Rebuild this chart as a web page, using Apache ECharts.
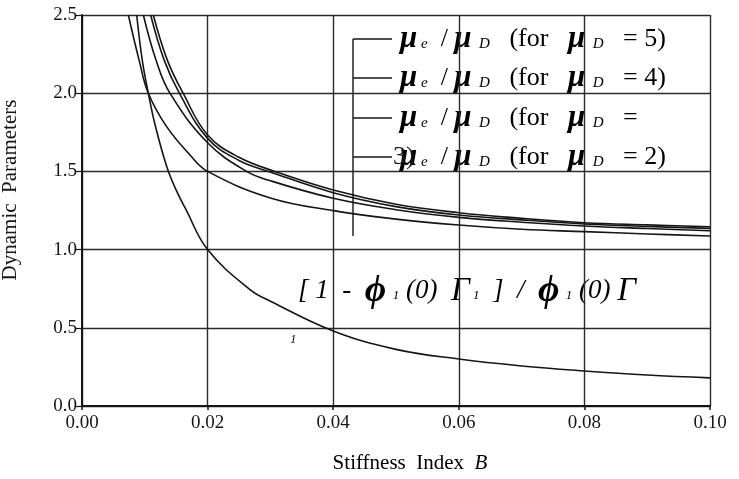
<!DOCTYPE html>
<html>
<head>
<meta charset="utf-8">
<script src="https://cdn.jsdelivr.net/npm/echarts@6/dist/echarts.min.js"></script>
<style>
  html, body { margin: 0; padding: 0; background: #fff; }
  #chart { width: 739px; height: 479px; }
</style>
</head>
<body>
<div id="chart"></div>
<script>
// values (x = stiffness index B)
const xMu5 = [0.01135, 0.0136, 0.0161, 0.02, 0.025, 0.0307, 0.04, 0.05, 0.06, 0.07, 0.08, 0.09, 0.10]
const yMu5 = [2.5, 2.21, 2.0, 1.733, 1.59, 1.5, 1.381, 1.29, 1.236, 1.2, 1.172, 1.158, 1.146]

const xMu4 = [0.01093, 0.0131, 0.0155, 0.02, 0.025, 0.0297, 0.04, 0.05, 0.06, 0.07, 0.08, 0.09, 0.10]
const yMu4 = [2.5, 2.21, 2.0, 1.711, 1.57, 1.5, 1.364, 1.275, 1.221, 1.19, 1.164, 1.148, 1.136]

const xMu3 = [0.00977, 0.0118, 0.014, 0.02, 0.0262, 0.03, 0.04, 0.05, 0.06, 0.07, 0.08, 0.09, 0.10]
const yMu3 = [2.5, 2.21, 2.0, 1.683, 1.5, 1.44, 1.328, 1.255, 1.206, 1.175, 1.151, 1.135, 1.121]

const xMu2 = [0.00738, 0.0091, 0.01056, 0.01348, 0.0172, 0.02, 0.03, 0.04, 0.05, 0.06, 0.07, 0.08, 0.09, 0.10]
const yMu2 = [2.5, 2.21, 2.0, 1.786, 1.605, 1.5, 1.33, 1.249, 1.195, 1.157, 1.13, 1.115, 1.1, 1.087]

const xPhi = [0.00871, 0.0096, 0.01056, 0.01162, 0.0135, 0.015, 0.0165, 0.02, 0.0268, 0.03, 0.04, 0.05, 0.06, 0.07, 0.08, 0.09, 0.10]
const yPhi = [2.5, 2.21, 2.0, 1.8, 1.53, 1.38, 1.26, 1.0, 0.742, 0.67, 0.48, 0.362, 0.3, 0.256, 0.224, 0.198, 0.18]

// legend entries (mu_D values), top to bottom
const legendMuD = ['5', '4', '3', '2']

const serif = '"Liberation Serif", "DejaVu Serif", serif'
const ink = '#151515'

// zip x / y arrays into points
function pts(xs, ys) {
  return xs.map((x, i) => [x, ys[i]])
}

function curve(name, xs, ys) {
  return {
    name: name,
    type: 'line',
    data: pts(xs, ys),
    smooth: 0.4,
    showSymbol: false,
    clip: true,
    lineStyle: { color: ink, width: 1.6 }
  }
}

// rich text styles for the mu labels
const rich = {
  mu: { fontFamily: serif, fontStyle: 'italic', fontWeight: 'bold', fontSize: 31, color: ink },
  sub: { fontFamily: serif, fontStyle: 'italic', fontSize: 15, color: ink, padding: [0, 0, -10, 0] },
  t: { fontFamily: serif, fontSize: 26, color: ink }
}

function muLabel(val) {
  return '{mu|μ}{sub| e}{t|  / }{mu|μ}{sub|  D}{t|   (for   }{mu|μ}{sub|  D}{t|   = ' + val + '}'
}

const legendY = [39, 78, 118, 157]
const graphics = []
// legend bracket
graphics.push({
  type: 'line',
  shape: { x1: 353, y1: 39, x2: 353, y2: 236 },
  style: { stroke: ink, lineWidth: 1.4 }
})
legendMuD.forEach((v, i) => {
  graphics.push({
    type: 'line',
    shape: { x1: 353, y1: legendY[i], x2: 392, y2: legendY[i] },
    style: { stroke: ink, lineWidth: 1.4 }
  })
  const txt = muLabel(v === '3' ? '' : v + ')')
  graphics.push({
    type: 'text',
    x: 400,
    y: legendY[i],
    style: { text: txt, rich: rich, verticalAlign: 'middle', align: 'left' }
  })
})
// the wrapped "3)" of the third entry
graphics.push({
  type: 'text',
  x: 393,
  y: legendY[3],
  style: { text: '3)', fontFamily: serif, fontSize: 26, fill: ink, verticalAlign: 'middle' }
})

// annotation of the lower curve
graphics.push({
  type: 'text',
  x: 298,
  y: 291,
  style: {
    text: '{i|[ 1  -  }{phi|ϕ}{s|  1}{i| (0)  }{g|Γ}{s| 1}{i|  ]  /  }{phi|ϕ}{s|  1}{i| (0) }{g|Γ}',
    verticalAlign: 'middle',
    rich: {
      i: { fontFamily: serif, fontStyle: 'italic', fontSize: 27, color: ink },
      phi: { fontFamily: serif, fontStyle: 'italic', fontWeight: 'bold', fontSize: 37, color: ink },
      g: { fontFamily: serif, fontStyle: 'italic', fontSize: 33, color: ink },
      s: { fontFamily: serif, fontStyle: 'italic', fontSize: 13, color: ink, padding: [0, 0, -10, 0] }
    }
  }
})
graphics.push({
  type: 'text',
  x: 290,
  y: 340,
  style: { text: '1', fontFamily: serif, fontStyle: 'italic', fontSize: 13, fill: ink, verticalAlign: 'middle' }
})
// axis titles
graphics.push({
  type: 'text',
  x: 410,
  y: 463,
  style: {
    text: '{t|Stiffness  Index  }{b|B}',
    align: 'center',
    verticalAlign: 'middle',
    rich: {
      t: { fontFamily: serif, fontSize: 21, color: ink },
      b: { fontFamily: serif, fontStyle: 'italic', fontSize: 21, color: ink }
    }
  }
})
graphics.push({
  type: 'text',
  x: 10,
  y: 190,
  rotation: Math.PI / 2,
  style: {
    text: 'Dynamic  Parameters',
    fontFamily: serif,
    fontSize: 21,
    fill: ink,
    align: 'center',
    verticalAlign: 'middle'
  }
})

const chart = echarts.init(document.getElementById('chart'), null, { renderer: 'canvas' })

const option = {
  animation: false,
  backgroundColor: '#fff',
  grid: { left: 82, right: 29, top: 15, bottom: 73 },
  xAxis: {
    type: 'value',
    min: 0,
    max: 0.1,
    interval: 0.02,
    axisLine: { show: true, onZero: false, lineStyle: { color: ink, width: 2 } },
    axisTick: { show: true, inside: false, length: 4, lineStyle: { color: ink, width: 1.5 } },
    axisLabel: {
      margin: 8,
      fontFamily: serif,
      fontSize: 19,
      color: ink,
      formatter: v => v.toFixed(2)
    },
    splitLine: { show: true, lineStyle: { color: '#2a2a2a', width: 1.4 } }
  },
  yAxis: {
    type: 'value',
    min: 0,
    max: 2.5,
    interval: 0.5,
    axisLine: { show: true, onZero: false, lineStyle: { color: ink, width: 2 } },
    axisTick: { show: true, inside: false, length: 7, lineStyle: { color: ink, width: 1.2 } },
    axisLabel: {
      margin: 5,
      fontFamily: serif,
      fontSize: 19,
      color: ink,
      formatter: v => v.toFixed(1)
    },
    splitLine: { show: true, lineStyle: { color: '#2a2a2a', width: 1.4 } }
  },
  series: [
    curve('mu_D = 5', xMu5, yMu5),
    curve('mu_D = 4', xMu4, yMu4),
    curve('mu_D = 3', xMu3, yMu3),
    curve('mu_D = 2', xMu2, yMu2),
    curve('[1 - phi1(0) Gamma1] / phi1(0) Gamma1', xPhi, yPhi)
  ],
  graphic: graphics
}

chart.setOption(option)
</script>
</body>
</html>
